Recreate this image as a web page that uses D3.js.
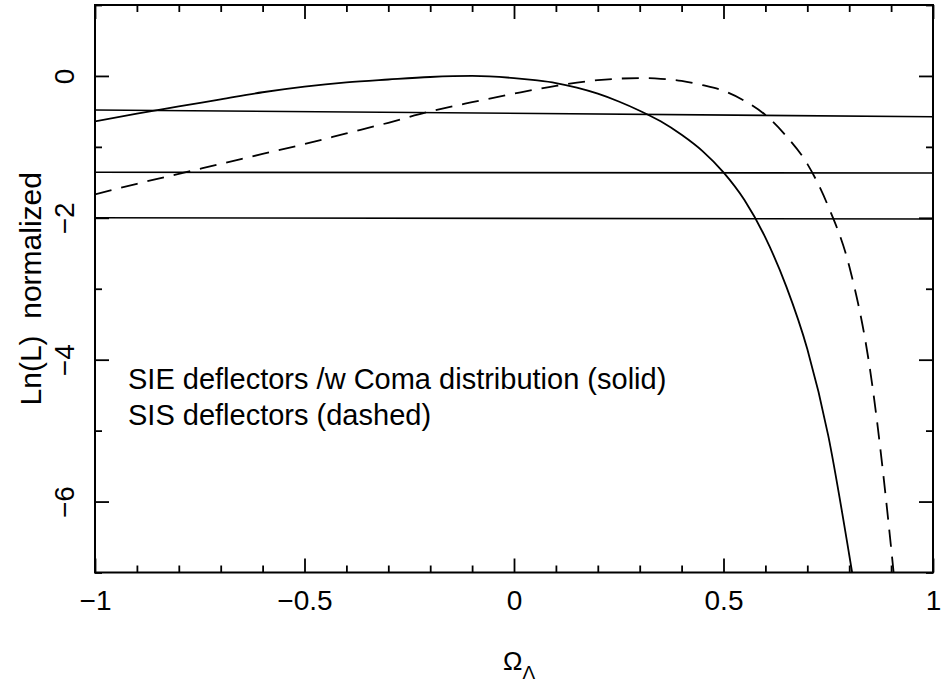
<!DOCTYPE html>
<html><head><meta charset="utf-8">
<script src="https://cdn.jsdelivr.net/npm/d3@7"></script>
<style>
body{margin:0;background:#fff}
svg{display:block}
text{font-family:"Liberation Sans",Arial,Helvetica,sans-serif;fill:#000}
</style>
</head><body>
<svg id="c" width="941" height="684"></svg>
<script>
// ---- data ----
const omegaSolid = [-1.0,-0.9,-0.8,-0.7,-0.6,-0.5,-0.4,-0.3,-0.2,-0.1,0.0,0.05,0.1,0.15,0.2,0.25,0.3,0.35,0.4,0.45,0.5,0.55,0.6,0.65,0.7,0.75,0.8,0.807];
const lnLSolid   = [-0.64,-0.53,-0.43,-0.33,-0.23,-0.15,-0.09,-0.05,-0.015,0.0,-0.03,-0.06,-0.10,-0.165,-0.25,-0.36,-0.49,-0.64,-0.83,-1.06,-1.36,-1.75,-2.28,-2.97,-3.85,-5.07,-6.75,-7.0];
const omegaDashed = [-1.0,-0.9,-0.8,-0.7,-0.6,-0.5,-0.4,-0.3,-0.2,-0.1,0.0,0.1,0.2,0.3,0.35,0.4,0.45,0.5,0.55,0.6,0.65,0.7,0.75,0.8,0.85,0.9,0.906];
const lnLDashed   = [-1.67,-1.52,-1.38,-1.24,-1.10,-0.96,-0.81,-0.66,-0.50,-0.37,-0.25,-0.14,-0.06,-0.03,-0.04,-0.07,-0.13,-0.21,-0.35,-0.55,-0.85,-1.24,-1.84,-2.68,-4.15,-6.65,-7.0];
const levelStart = [-0.48, -1.357, -1.999];
const levelEnd   = [-0.575, -1.369, -2.017];
const xMajorTicks = [-1, -0.5, 0, 0.5, 1];
const xMinorTicks = [-0.9,-0.8,-0.7,-0.6,-0.4,-0.3,-0.2,-0.1,0.1,0.2,0.3,0.4,0.6,0.7,0.8,0.9];
const yMajorTicks = [0, -2, -4, -6];
const yMinorTicks = [1, -1, -3, -5, -7];
const annotation = ["SIE deflectors /w Coma distribution (solid)", "SIS deflectors (dashed)"];
const xTitle = "Ω", xTitleSub = "Λ";
const yTitle = "Ln(L)  normalized";

// ---- layout ----
const L = 95, R = 933, T = 5, B = 572.5;
const svg = d3.select("#c");
const x = d3.scaleLinear().domain([-1, 1]).range([L, R]);
const y = d3.scaleLinear().domain([-7, 1]).range([B, T]);
const fmt = d => (d < 0 ? "\u2212" : "") + Math.abs(d);

svg.append("defs").append("clipPath").attr("id","clip")
  .append("rect").attr("x",L).attr("y",T).attr("width",R-L).attr("height",B-T);

function styleAxis(g){
  g.select(".domain").remove();
  g.selectAll(".tick line").attr("stroke","#000").attr("stroke-width",1.8);
}
// bottom
svg.append("g").attr("transform",`translate(0,${B})`)
  .call(d3.axisBottom(x).tickValues(xMinorTicks).tickSize(-7).tickFormat("")).call(styleAxis);
const xb = svg.append("g").attr("transform",`translate(0,${B})`)
  .call(d3.axisBottom(x).tickValues(xMajorTicks).tickSize(-14).tickFormat(fmt)).call(styleAxis);
xb.selectAll("text").attr("y",37.5).attr("dy",null).attr("font-size",28).attr("font-family",null);
// top
svg.append("g").attr("transform",`translate(0,${T})`)
  .call(d3.axisTop(x).tickValues(xMinorTicks).tickSize(-7).tickFormat("")).call(styleAxis);
svg.append("g").attr("transform",`translate(0,${T})`)
  .call(d3.axisTop(x).tickValues(xMajorTicks).tickSize(-14).tickFormat("")).call(styleAxis);
// left
svg.append("g").attr("transform",`translate(${L},0)`)
  .call(d3.axisLeft(y).tickValues(yMinorTicks).tickSize(-7).tickFormat("")).call(styleAxis);
const yl = svg.append("g").attr("transform",`translate(${L},0)`)
  .call(d3.axisLeft(y).tickValues(yMajorTicks).tickSize(-14).tickFormat(fmt)).call(styleAxis);
yl.selectAll("text").attr("x",null).attr("dy",null).attr("text-anchor","middle")
  .attr("transform","translate(-21,0) rotate(-90)").attr("font-size",28).attr("font-family",null);
// right
svg.append("g").attr("transform",`translate(${R},0)`)
  .call(d3.axisRight(y).tickValues(yMinorTicks).tickSize(-7).tickFormat("")).call(styleAxis);
svg.append("g").attr("transform",`translate(${R},0)`)
  .call(d3.axisRight(y).tickValues(yMajorTicks).tickSize(-14).tickFormat("")).call(styleAxis);

// frame
svg.append("rect").attr("x",L).attr("y",T).attr("width",R-L).attr("height",B-T)
  .attr("fill","none").attr("stroke","#000").attr("stroke-width",2);

const plot = svg.append("g").attr("clip-path","url(#clip)");
// confidence level lines
plot.selectAll("line.level").data(levelStart).join("line").attr("class","level")
  .attr("x1",x(-1)).attr("x2",x(1))
  .attr("y1",d=>y(d)).attr("y2",(d,i)=>y(levelEnd[i]))
  .attr("stroke","#000").attr("stroke-width",1.6);

const line = d3.line().x(d=>x(d[0])).y(d=>y(d[1])).curve(d3.curveMonotoneX);
plot.append("path").datum(omegaSolid.map((o,i)=>[o,lnLSolid[i]]))
  .attr("d",line).attr("fill","none").attr("stroke","#000").attr("stroke-width",1.8);
plot.append("path").datum(omegaDashed.map((o,i)=>[o,lnLDashed[i]]))
  .attr("d",line).attr("fill","none").attr("stroke","#000").attr("stroke-width",1.8)
  .attr("stroke-dasharray","17,10");

// annotation
svg.selectAll("text.ann").data(annotation).join("text").attr("class","ann")
  .attr("x",128).attr("y",(d,i)=>389+i*36).attr("font-size",29).text(d=>d);

// axis titles
const xt = svg.append("text").attr("x",503).attr("y",670).attr("font-size",26);
xt.append("tspan").text(xTitle);
xt.append("tspan").attr("font-size",19).attr("dy",9).text(xTitleSub);
svg.append("text").attr("transform",`translate(41,${(T+B)/2}) rotate(-90)`)
  .attr("text-anchor","middle").attr("font-size",30).attr("xml:space","preserve")
  .style("white-space","pre").text(yTitle);
</script>
</body></html>
